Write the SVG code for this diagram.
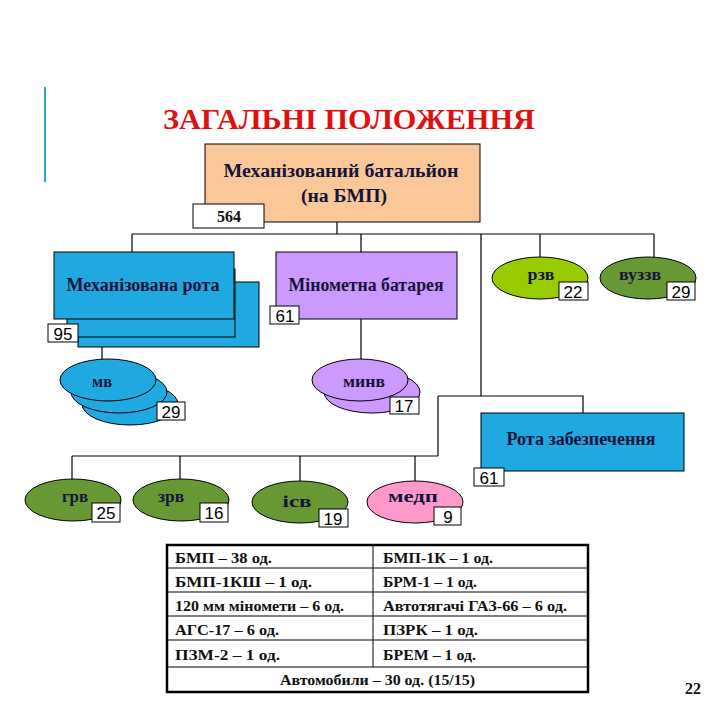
<svg xmlns="http://www.w3.org/2000/svg" width="720" height="720" viewBox="0 0 720 720">
<style>
.t{font-family:"Liberation Serif","Times New Roman",serif;font-weight:bold;fill:#111;}
.title{font-family:"Liberation Serif","Times New Roman",serif;font-weight:bold;font-size:29px;fill:#e01010;text-anchor:middle;}
.lbl{font-family:"Liberation Serif","Times New Roman",serif;font-weight:bold;font-size:18px;fill:#14143a;text-anchor:middle;}
.el{font-family:"Liberation Serif","Times New Roman",serif;font-weight:bold;font-size:16px;fill:#14143a;text-anchor:middle;}
.num{font-family:"Liberation Sans",Arial,sans-serif;font-size:17px;fill:#000;text-anchor:middle;}
.nb{fill:#fff;stroke:#000;stroke-width:1;}
.s{stroke:#000;stroke-width:1;}
.ln{fill:none;stroke:#000;stroke-width:1.2;}
.blue{fill:#20a8e0;}
.pur{fill:#cc99ff;}
.olive{fill:#669933;}
.lime{fill:#99cc00;}
.pink{fill:#ff99cc;}
.tb{font-family:"Liberation Serif","Times New Roman",serif;font-weight:bold;font-size:15.5px;fill:#111;}
</style>
<rect width="720" height="720" fill="#fff"/>
<line x1="45" y1="87" x2="45" y2="182" stroke="#2aa8c8" stroke-width="2"/>
<text class="title" x="349" y="129" textLength="372" lengthAdjust="spacingAndGlyphs">ЗАГАЛЬНІ ПОЛОЖЕННЯ</text>

<g id="connectors" class="ln">
<path d="M337 222V234M132 234H654M132 234V252M361 234V252M481 234V396M540 234V258M654 234V258"/>
<path d="M102 347V359M361 319V359"/>
<path d="M438 396H583V413M438 396V456M72 456H438M72 456V479M180 456V479M300 456V481M415 456V481"/>
</g>

<g id="battalion">
<rect x="205" y="144" width="275" height="78" fill="#fac898" class="s"/>
<text class="lbl" x="341" y="177" font-size="19" textLength="235" lengthAdjust="spacingAndGlyphs">Механізований батальйон</text>
<text class="lbl" x="344" y="202" font-size="19" textLength="86" lengthAdjust="spacingAndGlyphs">(на БМП)</text>
<rect x="193" y="204" width="71" height="24" class="nb"/>
<text class="t" x="229" y="222" font-size="16" text-anchor="middle">564</text>
</g>

<g id="mech-rota">
<rect x="78" y="282" width="181" height="65" class="blue s"/>
<rect x="67" y="269" width="168" height="68" class="blue s"/>
<rect x="54" y="252" width="180" height="67" class="blue s"/>
<text class="lbl" x="143" y="291" textLength="153" lengthAdjust="spacingAndGlyphs">Механізована рота</text>
<rect x="48" y="324" width="30" height="18" class="nb"/>
<text class="num" x="63" y="340">95</text>
</g>

<g id="mortar">
<rect x="276" y="252" width="181" height="67" class="pur s"/>
<text class="lbl" x="366" y="291" textLength="155" lengthAdjust="spacingAndGlyphs">Мінометна батарея</text>
<rect x="270" y="306" width="29" height="18" class="nb"/>
<text class="num" x="285" y="322">61</text>
</g>

<g id="mv">
<ellipse cx="130" cy="404" rx="48" ry="21" class="blue s"/>
<ellipse cx="119" cy="392" rx="48" ry="21" class="blue s"/>
<ellipse cx="108" cy="380" rx="48" ry="21" class="blue s"/>
<text class="el" x="102" y="387" textLength="20" lengthAdjust="spacingAndGlyphs">мв</text>
<rect x="157" y="402" width="28" height="18" class="nb"/>
<text class="num" x="171" y="418">29</text>
</g>

<g id="minv">
<ellipse cx="372" cy="392" rx="48" ry="21" class="pur s"/>
<ellipse cx="360" cy="380" rx="48" ry="21" class="pur s"/>
<text class="el" x="364" y="387" textLength="42" lengthAdjust="spacingAndGlyphs">минв</text>
<rect x="390" y="397" width="29" height="17" class="nb"/>
<text class="num" x="404" y="412">17</text>
</g>

<g id="rzv">
<ellipse cx="540" cy="278" rx="48" ry="21" class="lime s"/>
<text class="el" x="541" y="280" textLength="27" lengthAdjust="spacingAndGlyphs">рзв</text>
<rect x="559" y="282" width="29" height="18" class="nb"/>
<text class="num" x="573" y="298">22</text>
</g>

<g id="vuzzv">
<ellipse cx="648" cy="278" rx="48" ry="21" class="olive s"/>
<text class="el" x="640" y="280" textLength="42" lengthAdjust="spacingAndGlyphs">вуззв</text>
<rect x="667" y="282" width="28" height="18" class="nb"/>
<text class="num" x="681" y="298">29</text>
</g>

<g id="rota-zabezp">
<rect x="481" y="413" width="203" height="58" class="blue s"/>
<text class="lbl" x="581" y="445" textLength="149" lengthAdjust="spacingAndGlyphs">Рота забезпечення</text>
<rect x="474" y="468" width="30" height="18" class="nb"/>
<text class="num" x="489" y="484">61</text>
</g>

<g id="grv">
<ellipse cx="73" cy="500" rx="48" ry="21" class="olive s"/>
<text class="el" x="75" y="502" textLength="26" lengthAdjust="spacingAndGlyphs">грв</text>
<rect x="92" y="503" width="28" height="19" class="nb"/>
<text class="num" x="106" y="519">25</text>
</g>

<g id="zrv">
<ellipse cx="181" cy="500" rx="48" ry="21" class="olive s"/>
<text class="el" x="171" y="502" textLength="26" lengthAdjust="spacingAndGlyphs">зрв</text>
<rect x="200" y="503" width="28" height="19" class="nb"/>
<text class="num" x="214" y="519">16</text>
</g>

<g id="isv">
<ellipse cx="300" cy="502" rx="48" ry="21" class="olive s"/>
<text class="el" x="297" y="507" textLength="29" lengthAdjust="spacingAndGlyphs">ісв</text>
<rect x="319" y="509" width="29" height="18" class="nb"/>
<text class="num" x="333" y="525">19</text>
</g>

<g id="medp">
<ellipse cx="415" cy="502" rx="48" ry="21" class="pink s"/>
<text class="el" x="413" y="502" textLength="50" lengthAdjust="spacingAndGlyphs">медп</text>
<rect x="434" y="507" width="27" height="18" class="nb"/>
<text class="num" x="448" y="523">9</text>
</g>

<g id="table">
<rect x="167" y="545" width="421" height="147" fill="#fff" stroke="#000" stroke-width="2.5"/>
<path d="M167 568H588M167 592H588M167 616H588M167 640H588M167 667H588M373 545V667" stroke="#000" stroke-width="1" fill="none"/>
<text class="tb" x="175" y="563" textLength="97" lengthAdjust="spacingAndGlyphs">БМП – 38 од.</text>
<text class="tb" x="383" y="563" textLength="110" lengthAdjust="spacingAndGlyphs">БМП-1К – 1 од.</text>
<text class="tb" x="175" y="587" textLength="137" lengthAdjust="spacingAndGlyphs">БМП-1КШ – 1 од.</text>
<text class="tb" x="383" y="587" textLength="94" lengthAdjust="spacingAndGlyphs">БРМ-1 – 1 од.</text>
<text class="tb" x="175" y="611" textLength="169" lengthAdjust="spacingAndGlyphs">120 мм міномети – 6 од.</text>
<text class="tb" x="383" y="611" textLength="184" lengthAdjust="spacingAndGlyphs">Автотягачі ГАЗ-66 – 6 од.</text>
<text class="tb" x="175" y="635" textLength="104" lengthAdjust="spacingAndGlyphs">АГС-17 – 6 од.</text>
<text class="tb" x="383" y="635" textLength="95" lengthAdjust="spacingAndGlyphs">ПЗРК – 1 од.</text>
<text class="tb" x="175" y="660" textLength="105" lengthAdjust="spacingAndGlyphs">ПЗМ-2 – 1 од.</text>
<text class="tb" x="383" y="660" textLength="93" lengthAdjust="spacingAndGlyphs">БРЕМ – 1 од.</text>
<text class="tb" x="280" y="685" textLength="195" lengthAdjust="spacingAndGlyphs">Автомобили – 30 од. (15/15)</text>
</g>
<text class="t" x="693" y="694" font-size="16" text-anchor="middle">22</text>
</svg>
